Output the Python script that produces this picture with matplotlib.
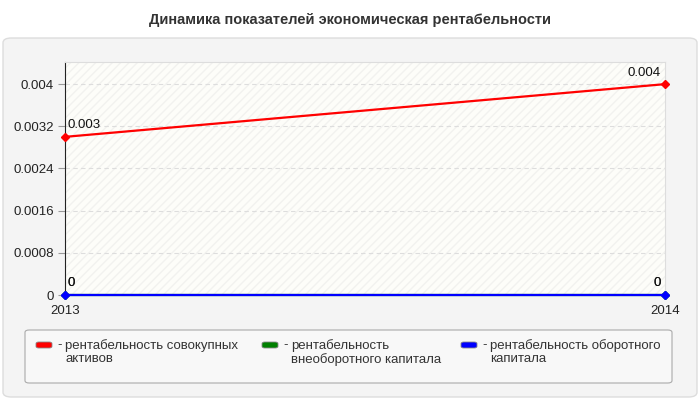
import numpy as np
import matplotlib.pyplot as plt
from matplotlib.patches import FancyBboxPatch, Rectangle

plt.rcParams['font.family'] = ['Liberation Sans', 'DejaVu Sans']

years = ['2013', '2014']
names = ['рентабельность совокупных\nактивов',
         'рентабельность\nвнеоборотного капитала',
         'рентабельность оборотного\nкапитала']
colors = ['#ff0000', '#008000', '#0000ff']
total_assets = [0.003, 0.004]
noncurrent = [0, 0]
current = [0, 0]
labels = [['0.003', '0.004'], ['0', '0'], ['0', '0']]
yticks = [0, 0.0008, 0.0016, 0.0024, 0.0032, 0.004]
ytick_labels = ['0', '0.0008', '0.0016', '0.0024', '0.0032', '0.004']

W, H = 700, 400
fig = plt.figure(figsize=(7, 4), dpi=100)
fig.patch.set_facecolor('white')

# grey panel behind chart and legend
panel = FancyBboxPatch((3 / W, 3 / H), 694 / W, 359 / H,
                       boxstyle='round,pad=0,rounding_size=0.012',
                       transform=fig.transFigure, facecolor='#f4f4f4',
                       edgecolor='#dddddd', linewidth=1, zorder=-5)
fig.patches.append(panel)

fig.text(0.5, 1 - 20 / H, 'Динамика показателей экономическая рентабельности',
         ha='center', va='center', fontsize=10.5, fontweight='bold', color='#333333')

ax = fig.add_axes([65 / W, 1 - 295 / H, 600 / W, 233 / H])
ax.set_zorder(5)
ax.set_facecolor('#fdfdf9')
ax.add_patch(Rectangle((0, 0), 1, 1, transform=ax.transAxes, facecolor='none',
                       edgecolor='#f2f2ef', hatch='////', linewidth=0, zorder=0))
ax.set_xlim(0, 1)
ax.set_ylim(0, 0.00442)

x = np.arange(len(years))
series = [total_assets, noncurrent, current]
for vals, c in zip(series, colors):
    ax.plot(x, vals, color=c, linewidth=1.6, marker='D', markersize=4.5,
            clip_on=False, zorder=3)

for i, (vals, labs) in enumerate(zip(series, labels)):
    ax.annotate(labs[0], (x[0], vals[0]), xytext=(2, 4), textcoords='offset points',
                ha='left', va='bottom', fontsize=9.5, color='#111111')
    ax.annotate(labs[1], (x[1], vals[1]), xytext=(-3, 4), textcoords='offset points',
                ha='right', va='bottom', fontsize=9.5, color='#111111')

ax.set_yticks(yticks)
ax.set_yticklabels(ytick_labels)
ax.set_xticks(x)
ax.set_xticklabels(years)
ax.tick_params(axis='y', length=5, color='#999999', labelsize=9.5, pad=3, labelcolor='#222222')
ax.tick_params(axis='x', length=0, labelsize=9.5, pad=7, labelcolor='#222222')
for t in yticks[1:]:
    ax.axhline(t, color='#dddddd', linestyle=(0, (4, 3)), linewidth=0.8, zorder=1)

for side in ['top', 'right', 'bottom']:
    ax.spines[side].set_color('#dddddd')
ax.spines['left'].set_color('#222222')
ax.spines['bottom'].set_visible(False)

# legend box
leg = FancyBboxPatch((25 / W, 1 - 383 / H), 647 / W, 53 / H,
                     boxstyle='round,pad=0,rounding_size=0.006',
                     transform=fig.transFigure, facecolor='#f8f8f8',
                     edgecolor='#aaaaaa', linewidth=0.8)
fig.patches.append(leg)
sw_x = [36, 262, 461]
for name, c, sx in zip(names, colors, sw_x):
    sw = FancyBboxPatch((sx / W, 1 - 348 / H), 16 / W, 6 / H,
                        boxstyle='round,pad=0,rounding_size=0.004',
                        transform=fig.transFigure, facecolor=c,
                        edgecolor='#888888', linewidth=0.6)
    fig.patches.append(sw)
    fig.text((sx + 21) / W, 1 - 339 / H, '-', ha='left', va='top',
             fontsize=9.5, color='#333333')
    fig.text((sx + 29) / W, 1 - 339 / H, name, ha='left', va='top',
             fontsize=9.5, color='#333333', linespacing=1.1)

fig.savefig('out.png', dpi=100)
